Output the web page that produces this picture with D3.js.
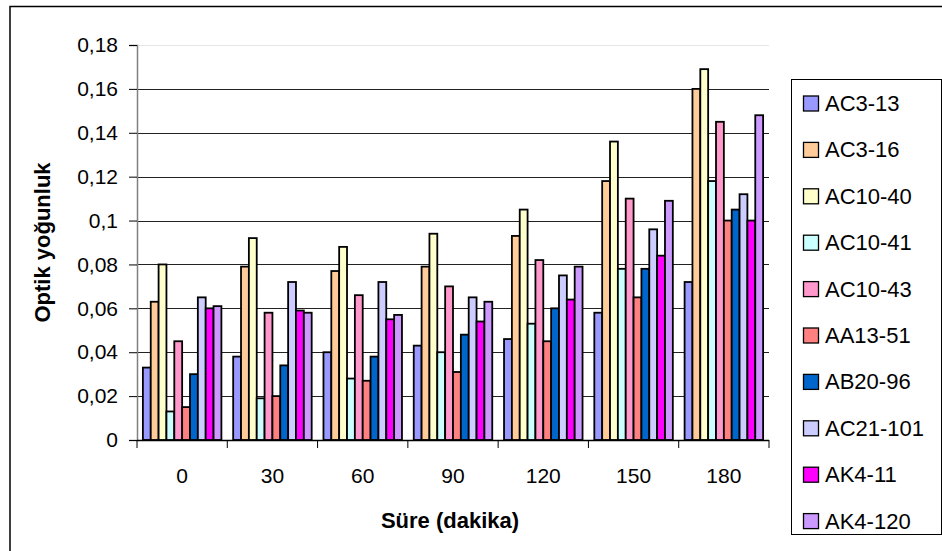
<!DOCTYPE html>
<html><head><meta charset="utf-8">
<script src="https://cdn.jsdelivr.net/npm/d3@7"></script>
<style>body{margin:0;background:#fff}svg{display:block}text{font-family:"Liberation Sans",Arial,sans-serif}</style>
</head><body>
<svg id="c" width="942" height="551"></svg>
<script>
const categories = ["0","30","60","90","120","150","180"];
const seriesNames = ["AC3-13","AC3-16","AC10-40","AC10-41","AC10-43","AA13-51","AB20-96","AC21-101","AK4-11","AK4-120"];
const AC3_13   = [0.033,0.038,0.040,0.043,0.046,0.058,0.072];
const AC3_16   = [0.063,0.079,0.077,0.079,0.093,0.118,0.160];
const AC10_40  = [0.080,0.092,0.088,0.094,0.105,0.136,0.169];
const AC10_41  = [0.013,0.019,0.028,0.040,0.053,0.078,0.118];
const AC10_43  = [0.045,0.058,0.066,0.070,0.082,0.110,0.145];
const AA13_51  = [0.015,0.020,0.027,0.031,0.045,0.065,0.100];
const AB20_96  = [0.030,0.034,0.038,0.048,0.060,0.078,0.105];
const AC21_101 = [0.065,0.072,0.072,0.065,0.075,0.096,0.112];
const AK4_11   = [0.060,0.059,0.055,0.054,0.064,0.084,0.100];
const AK4_120  = [0.061,0.058,0.057,0.063,0.079,0.109,0.148];
const colors = ["#9999FF","#FFCC99","#FFFFCC","#CCFFFF","#FF99CC","#FF8080","#0066CC","#CCCCFF","#FF00FF","#CC99FF"];
const yTicks = [0,0.02,0.04,0.06,0.08,0.1,0.12,0.14,0.16,0.18];
const yTickLabels = ["0","0,02","0,04","0,06","0,08","0,1","0,12","0,14","0,16","0,18"];

const seriesValues = [AC3_13,AC3_16,AC10_40,AC10_41,AC10_43,AA13_51,AB20_96,AC21_101,AK4_11,AK4_120];

const svg = d3.select("#c");
const L=137, R=769, T=45, B=440;

// outer border
svg.append("rect").attr("x",10).attr("y",6.5).attr("width",940).attr("height",560)
  .attr("fill","none").attr("stroke","#000").attr("stroke-width",1.5);

const x0 = d3.scaleBand().domain(categories).range([L,R]).paddingInner(0).paddingOuter(0);
const x1 = d3.scaleBand().domain(seriesNames).range([0,x0.bandwidth()]).paddingInner(0).paddingOuter(0.75);
const y = d3.scaleLinear().domain([0,0.18]).range([B,T]);

// gridlines
svg.append("g").selectAll("line").data(yTicks.slice(1)).join("line")
  .attr("x1",L).attr("x2",R).attr("y1",d=>Math.round(y(d))+0.5).attr("y2",d=>Math.round(y(d))+0.5)
  .attr("stroke",d=>d===0.18?"#e6e6e6":"#222").attr("stroke-width",1);

// bars
const g = svg.append("g");
categories.forEach((c,ci)=>{
  seriesNames.forEach((s,si)=>{
    const v = seriesValues[si][ci];
    g.append("rect")
      .attr("x",x0(c)+x1(s)).attr("y",y(v))
      .attr("width",x1.bandwidth()).attr("height",B-y(v))
      .attr("fill",colors[si]).attr("stroke","#000").attr("stroke-width",1.8);
  });
});

// y axis
const yAxis = d3.axisLeft(y).tickValues(yTicks).tickFormat((d,i)=>yTickLabels[i]).tickSize(8).tickPadding(11);
const ya = svg.append("g").attr("transform",`translate(${L},0)`).call(yAxis);
ya.select(".domain").attr("stroke","#808080").attr("stroke-width",1.5);
ya.selectAll(".tick line").attr("stroke","#000");
ya.selectAll("text").attr("font-size",21).attr("fill","#000").attr("font-family","Liberation Sans, Arial, sans-serif");

// x axis
const xa = svg.append("g").attr("transform",`translate(0,${B})`);
xa.append("line").attr("x1",L).attr("x2",R).attr("y1",0.5).attr("y2",0.5).attr("stroke","#000").attr("stroke-width",1.5);
const bounds = categories.map(c=>x0(c)).concat([R]);
xa.selectAll("line.tk").data(bounds).join("line").attr("class","tk")
  .attr("x1",d=>d).attr("x2",d=>d).attr("y1",0).attr("y2",8).attr("stroke","#000");
xa.selectAll("text").data(categories).join("text")
  .attr("x",d=>x0(d)+x0.bandwidth()/2).attr("y",43)
  .attr("text-anchor","middle").attr("font-size",21).text(d=>d);

// axis titles
svg.append("text").attr("x",450).attr("y",528).attr("text-anchor","middle")
  .attr("font-size",22).attr("font-weight","bold").text("Süre (dakika)");
svg.append("text").attr("transform",`translate(50,${(T+B)/2}) rotate(-90)`).attr("text-anchor","middle")
  .attr("font-size",22).attr("font-weight","bold").text("Optik yoğunluk");

// legend
const lg = svg.append("g");
lg.append("rect").attr("x",791.5).attr("y",79.5).attr("width",150).attr("height",455)
  .attr("fill","#fff").attr("stroke","#000").attr("stroke-width",1);
const items = lg.selectAll("g.it").data(seriesNames).join("g").attr("class","it")
  .attr("transform",(d,i)=>`translate(0,${103+i*46.4})`);
items.append("rect").attr("x",803.5).attr("y",-7).attr("width",15).attr("height",15)
  .attr("fill",(d,i)=>colors[i]).attr("stroke","#000").attr("stroke-width",1.3);
items.append("text").attr("x",825).attr("y",8).attr("font-size",22).text(d=>d);
</script>
</body></html>
